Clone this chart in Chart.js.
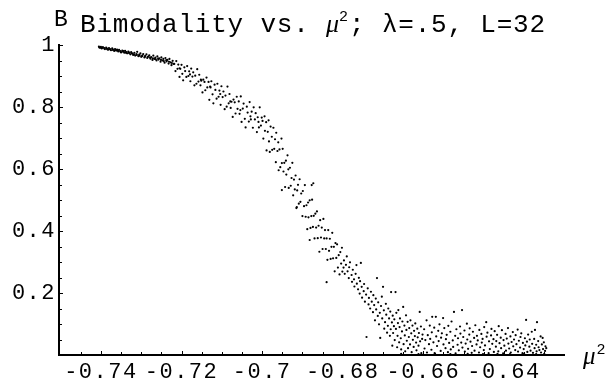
<!DOCTYPE html>
<html>
<head>
<meta charset="utf-8">
<script src="https://cdn.jsdelivr.net/npm/chart.js@4.4.0/dist/chart.umd.min.js"></script>
<style>
  html, body { margin: 0; padding: 0; background: #fff; }
</style>
</head>
<body>
<canvas id="myChart" width="607" height="383"></canvas>
<script>
// axis ticks
const xTicks = [-0.74, -0.72, -0.7, -0.68, -0.66, -0.64];
const xTickLabels = ['-0.74', '-0.72', '-0.7', '-0.68', '-0.66', '-0.64'];
const yTicks = [0.2, 0.4, 0.6, 0.8, 1];
const yTickLabels = ['0.2', '0.4', '0.6', '0.8', '1'];
const xRange = [-0.7504, -0.6251];
const yRange = [0, 1];

// bimodality samples [mu^2, B]
const plateau = [
  [-0.7405,0.995],[-0.7402,0.991],[-0.7400,0.994],[-0.7398,0.989],[-0.7395,0.993],[-0.7392,0.990],[-0.7390,0.987],[-0.7387,0.992],[-0.7385,0.988],[-0.7382,0.985],
  [-0.7380,0.990],[-0.7377,0.986],[-0.7375,0.983],[-0.7372,0.989],[-0.7370,0.984],[-0.7367,0.981],[-0.7365,0.987],[-0.7362,0.982],[-0.7360,0.985],[-0.7357,0.979],
  [-0.7355,0.984],[-0.7352,0.980],[-0.7350,0.976],[-0.7347,0.982],[-0.7345,0.978],[-0.7342,0.975],[-0.7340,0.981],[-0.7337,0.977],[-0.7335,0.973],[-0.7332,0.979],
  [-0.7330,0.974],[-0.7327,0.970],[-0.7325,0.977],[-0.7322,0.972],[-0.7320,0.968],[-0.7317,0.975],[-0.7315,0.966],[-0.7312,0.971],[-0.7310,0.978],[-0.7307,0.964],
  [-0.7305,0.969],[-0.7302,0.973],[-0.7300,0.962],[-0.7297,0.967],[-0.7295,0.971],[-0.7292,0.960],[-0.7290,0.965],[-0.7287,0.970],[-0.7285,0.958],[-0.7282,0.963],
  [-0.7280,0.967],[-0.7277,0.956],[-0.7275,0.961],[-0.7272,0.952],[-0.7270,0.966],[-0.7267,0.955],[-0.7265,0.959],[-0.7262,0.950],[-0.7260,0.963],[-0.7257,0.953],
  [-0.7255,0.957],[-0.7252,0.946],[-0.7250,0.960],[-0.7247,0.950],[-0.7245,0.955],[-0.7242,0.943],[-0.7240,0.958],[-0.7237,0.947],[-0.7235,0.952],[-0.7232,0.940],
  [-0.7230,0.955],[-0.7227,0.944],[-0.7225,0.935],[-0.7222,0.949],[-0.7220,0.939],
  [-0.7404,0.992],[-0.7397,0.991],[-0.7391,0.988],[-0.7384,0.986],[-0.7378,0.987],[-0.7371,0.986],[-0.7364,0.984],[-0.7358,0.982],[-0.7351,0.978],[-0.7344,0.980],
  [-0.7338,0.975],[-0.7331,0.976],[-0.7324,0.974],[-0.7318,0.970],[-0.7311,0.968],[-0.7304,0.966],[-0.7298,0.964],[-0.7291,0.962],[-0.7284,0.961],[-0.7278,0.959],
  [-0.7271,0.957],[-0.7264,0.954],[-0.7258,0.956],[-0.7251,0.952],[-0.7244,0.948],[-0.7238,0.951],[-0.7231,0.946],[-0.7224,0.942]
];

const shoulder = [
  [-0.7218,0.939],[-0.7215,0.916],[-0.7213,0.948],[-0.7210,0.923],[-0.7208,0.937],[-0.7205,0.897],[-0.7203,0.923],[-0.7200,0.936],[-0.7198,0.907],[-0.7196,0.886],
  [-0.7193,0.928],[-0.7191,0.916],[-0.7188,0.897],[-0.7186,0.932],[-0.7183,0.900],[-0.7181,0.915],[-0.7178,0.883],[-0.7176,0.924],[-0.7173,0.898],[-0.7171,0.912],
  [-0.7168,0.870],[-0.7166,0.901],[-0.7163,0.875],[-0.7161,0.922],[-0.7158,0.882],[-0.7156,0.904],[-0.7153,0.870],[-0.7151,0.885],[-0.7148,0.847],[-0.7146,0.888],
  [-0.7143,0.881],[-0.7141,0.854],[-0.7138,0.895],[-0.7136,0.863],[-0.7133,0.881],[-0.7131,0.823],[-0.7128,0.863],[-0.7126,0.883],[-0.7123,0.841],[-0.7121,0.812],
  [-0.7118,0.872],[-0.7116,0.855],[-0.7113,0.827],[-0.7111,0.875],[-0.7108,0.833],[-0.7106,0.853],[-0.7103,0.807],[-0.7101,0.867],[-0.7098,0.832],[-0.7096,0.850],
  [-0.7093,0.793],[-0.7091,0.837],[-0.7088,0.801],[-0.7086,0.866],[-0.7083,0.812],[-0.7081,0.842],[-0.7078,0.797],[-0.7076,0.817],[-0.7073,0.768],[-0.7071,0.824],
  [-0.7068,0.815],[-0.7066,0.779],[-0.7063,0.833],[-0.7061,0.794],[-0.7058,0.818],[-0.7056,0.778],[-0.7053,0.834],[-0.7051,0.752],[-0.7048,0.795],[-0.7046,0.811],
  [-0.7043,0.762],[-0.7041,0.734],[-0.7038,0.801],[-0.7036,0.782],[-0.7033,0.753],[-0.7031,0.816],[-0.7028,0.760],[-0.7026,0.785],[-0.7023,0.733],[-0.7021,0.799],
  [-0.7018,0.760],[-0.7016,0.780],[-0.7013,0.719],[-0.7011,0.767],[-0.7008,0.734],[-0.7006,0.799],[-0.7003,0.740],[-0.7001,0.766],
  [-0.7205,0.925],[-0.7179,0.905],[-0.7152,0.888],[-0.7129,0.866],[-0.7104,0.842],[-0.7079,0.818],[-0.7054,0.790],[-0.7029,0.770],[-0.7009,0.752]
];

const drop = [
  [-0.6999,0.755],[-0.6997,0.698],[-0.6994,0.770],[-0.6993,0.723],[-0.6990,0.751],[-0.6989,0.660],[-0.6986,0.720],[-0.6984,0.757],[-0.6983,0.689],[-0.6981,0.655],
  [-0.6979,0.737],[-0.6976,0.704],[-0.6975,0.662],[-0.6972,0.733],[-0.6970,0.665],[-0.6968,0.696],[-0.6966,0.622],[-0.6965,0.717],[-0.6962,0.658],[-0.6960,0.686],
  [-0.6959,0.596],[-0.6957,0.663],[-0.6955,0.606],[-0.6952,0.698],[-0.6951,0.619],[-0.6949,0.665],[-0.6947,0.592],[-0.6945,0.620],[-0.6943,0.542],[-0.6941,0.627],
  [-0.6940,0.582],[-0.6937,0.644],[-0.6935,0.599],[-0.6934,0.539],[-0.6931,0.604],[-0.6929,0.546],[-0.6927,0.571],[-0.6925,0.620],[-0.6923,0.515],[-0.6921,0.566],
  [-0.6919,0.534],[-0.6917,0.579],[-0.6915,0.474],[-0.6913,0.531],[-0.6911,0.549],[-0.6909,0.488],[-0.6907,0.567],[-0.6905,0.494],[-0.6903,0.521],[-0.6900,0.448],
  [-0.6899,0.529],[-0.6896,0.480],[-0.6894,0.548],[-0.6892,0.446],[-0.6890,0.483],[-0.6888,0.406],[-0.6886,0.492],[-0.6885,0.444],[-0.6882,0.499],[-0.6880,0.410],
  [-0.6878,0.448],[-0.6876,0.501],[-0.6874,0.413],[-0.6872,0.449],[-0.6870,0.376],[-0.6868,0.456],[-0.6866,0.411],[-0.6864,0.463],[-0.6862,0.377],[-0.6860,0.417],
  [-0.6858,0.333],[-0.6856,0.435],[-0.6854,0.379],[-0.6852,0.411],[-0.6850,0.342],[-0.6848,0.439],[-0.6846,0.376],[-0.6844,0.403],[-0.6842,0.342],[-0.6840,0.376],
  [-0.6838,0.307],[-0.6836,0.403],[-0.6834,0.336],[-0.6832,0.375],[-0.6830,0.310],[-0.6828,0.349],[-0.6826,0.394],[-0.6824,0.312],[-0.6822,0.349],[-0.6820,0.270],
  [-0.6818,0.361],[-0.6816,0.313],[-0.6814,0.357],[-0.6812,0.282],[-0.6810,0.322],[-0.6808,0.260],[-0.6806,0.332],[-0.6804,0.295],[-0.6802,0.346],[-0.6801,0.269],
  [-0.6877,0.548],[-0.6873,0.554],[-0.6882,0.371],[-0.6840,0.235],[-0.6914,0.477],[-0.6951,0.532]
];

const knee = [
  [-0.6798,0.282],[-0.6797,0.305],[-0.6795,0.262],[-0.6792,0.291],[-0.6790,0.318],[-0.6788,0.270],[-0.6785,0.248],[-0.6784,0.283],[-0.6782,0.299],[-0.6778,0.258],
  [-0.6777,0.236],[-0.6775,0.275],[-0.6772,0.244],[-0.6771,0.221],[-0.6768,0.262],[-0.6766,0.290],[-0.6765,0.230],[-0.6762,0.212],[-0.6760,0.249],[-0.6758,0.198],
  [-0.6757,0.238],[-0.6755,0.297],[-0.6753,0.220],[-0.6752,0.185],[-0.6748,0.206],[-0.6747,0.229],[-0.6745,0.172],[-0.6742,0.195],[-0.6741,0.058],[-0.6738,0.215],
  [-0.6736,0.163],[-0.6735,0.184],[-0.6732,0.150],[-0.6730,0.204],[-0.6728,0.172],[-0.6725,0.138],[-0.6724,0.193],[-0.6722,0.161],[-0.6720,0.112],[-0.6718,0.182],
  [-0.6717,0.147],[-0.6715,0.248],[-0.6713,0.126],[-0.6712,0.170],[-0.6710,0.099],[-0.6708,0.136],[-0.6707,0.055],[-0.6705,0.158],[-0.6703,0.188],[-0.6702,0.118],
  [-0.6700,0.220],[-0.6698,0.144],[-0.6697,0.085],[-0.6695,0.106],[-0.6693,0.165],[-0.6692,0.130],[-0.6690,0.072],[-0.6688,0.094],[-0.6687,0.150],[-0.6685,0.118],
  [-0.6683,0.062],[-0.6682,0.140],[-0.6681,0.083],[-0.6680,0.203],[-0.6678,0.105],[-0.6677,0.030],[-0.6676,0.127],[-0.6675,0.071],[-0.6673,0.093],[-0.6672,0.115],
  [-0.6671,0.048],[-0.6669,0.203],[-0.6668,0.084],[-0.6667,0.136],[-0.6665,0.025],[-0.6664,0.062],[-0.6663,0.103],[-0.6662,0.145],[-0.6660,0.041],[-0.6659,0.090],
  [-0.6658,0.118],[-0.6656,0.054],[-0.6655,0.018],[-0.6653,0.076],[-0.6652,0.108],[-0.6650,0.155],[-0.6649,0.035],[-0.6647,0.095],[-0.6646,0.063],[-0.6645,0.012],
  [-0.6643,0.128],[-0.6642,0.081],[-0.6641,0.046],[-0.6639,0.107],[-0.6638,0.022],[-0.6636,0.058],[-0.6635,0.087],[-0.6633,0.034],[-0.6632,0.112],[-0.6630,0.070],
  [-0.6629,0.009],[-0.6627,0.095],[-0.6626,0.049],[-0.6624,0.026],[-0.6623,0.078],[-0.6621,0.061],[-0.6620,0.102],[-0.6618,0.040],[-0.6617,0.015],[-0.6615,0.085],
  [-0.6614,0.057],[-0.6612,0.030],[-0.6611,0.071],[-0.6609,0.139],[-0.6608,0.044],[-0.6606,0.092],[-0.6605,0.006],[-0.6603,0.052],[-0.6602,0.066]
];

const tail = [
  [-0.6598,0.083],[-0.6597,0.021],[-0.6595,0.048],[-0.6592,0.112],[-0.6591,0.008],[-0.6589,0.064],[-0.6586,0.035],[-0.6584,0.095],[-0.6583,0.052],[-0.6580,0.017],
  [-0.6579,0.073],[-0.6578,0.123],[-0.6575,0.041],[-0.6573,0.088],[-0.6572,0.006],[-0.6569,0.123],[-0.6568,0.060],[-0.6566,0.029],[-0.6563,0.078],[-0.6562,0.045],
  [-0.6560,0.099],[-0.6557,0.013],[-0.6556,0.056],[-0.6554,0.070],[-0.6551,0.119],[-0.6550,0.034],[-0.6548,0.087],[-0.6545,0.022],[-0.6544,0.051],[-0.6542,0.065],
  [-0.6539,0.009],[-0.6538,0.094],[-0.6536,0.039],[-0.6533,0.075],[-0.6532,0.018],[-0.6530,0.108],[-0.6527,0.047],[-0.6526,0.026],[-0.6524,0.139],[-0.6521,0.062],
  [-0.6520,0.005],[-0.6518,0.083],[-0.6515,0.033],[-0.6514,0.054],[-0.6512,0.015],[-0.6509,0.092],[-0.6508,0.069],[-0.6506,0.040],[-0.6504,0.145],[-0.6503,0.024],
  [-0.6501,0.058],[-0.6498,0.079],[-0.6497,0.011],[-0.6495,0.037],[-0.6492,0.101],[-0.6491,0.050],[-0.6489,0.020],[-0.6486,0.066],[-0.6485,0.086],[-0.6483,0.043],
  [-0.6480,0.007],[-0.6479,0.029],[-0.6477,0.075],[-0.6474,0.055],[-0.6473,0.014],[-0.6471,0.096],[-0.6468,0.034],[-0.6467,0.062],[-0.6465,0.047],[-0.6462,0.008],
  [-0.6461,0.081],[-0.6459,0.025],[-0.6456,0.068],[-0.6455,0.040],[-0.6453,0.052],[-0.6450,0.016],[-0.6449,0.090],[-0.6447,0.031],[-0.6444,0.106],[-0.6443,0.059],
  [-0.6441,0.072],[-0.6438,0.006],[-0.6437,0.044],[-0.6435,0.019],[-0.6432,0.063],[-0.6431,0.084],[-0.6429,0.036],[-0.6426,0.051],[-0.6425,0.010],[-0.6423,0.077],
  [-0.6420,0.027],[-0.6419,0.045],[-0.6417,0.065],[-0.6414,0.012],[-0.6413,0.093],[-0.6411,0.038],[-0.6408,0.056],[-0.6407,0.022],[-0.6405,0.080],[-0.6402,0.005],
  [-0.6401,0.048],[-0.6399,0.030],[-0.6396,0.068],[-0.6395,0.014],[-0.6393,0.053],[-0.6390,0.087],[-0.6389,0.037],[-0.6387,0.021],[-0.6384,0.060],[-0.6383,0.008],
  [-0.6381,0.042],[-0.6378,0.074],[-0.6377,0.028],[-0.6375,0.050],[-0.6372,0.016],[-0.6371,0.064],[-0.6369,0.035],[-0.6366,0.082],[-0.6365,0.011],[-0.6363,0.046],
  [-0.6360,0.024],[-0.6359,0.058],[-0.6357,0.070],[-0.6354,0.006],[-0.6353,0.039],[-0.6351,0.019],[-0.6348,0.054],[-0.6347,0.031],[-0.6345,0.113],[-0.6343,0.043],
  [-0.6342,0.010],[-0.6340,0.066],[-0.6337,0.027],[-0.6336,0.050],[-0.6334,0.014],[-0.6331,0.075],[-0.6330,0.036],[-0.6328,0.007],[-0.6325,0.052],[-0.6324,0.022],
  [-0.6323,0.081],[-0.6320,0.033],[-0.6319,0.012],[-0.6318,0.106],[-0.6315,0.045],[-0.6314,0.025],[-0.6312,0.016],[-0.6309,0.060],[-0.6308,0.008],[-0.6306,0.034],
  [-0.6304,0.055],[-0.6303,0.019],[-0.6301,0.041],[-0.6298,0.013],[-0.6297,0.028],[-0.6295,0.022],
  [-0.6655,0.004],[-0.6612,0.003],[-0.6571,0.004],[-0.6533,0.003],[-0.6490,0.004],[-0.6452,0.003],[-0.6416,0.004],[-0.6385,0.003],[-0.6350,0.004],[-0.6320,0.003],
  [-0.6300,0.004]
];

const titleText = 'Bimodality vs. ';
const titleRest = '; \u03bb=.5, L=32';
const panelLetter = 'B';

const monoFont = '"Liberation Mono", "DejaVu Sans Mono", monospace';
const serifFont = '"Liberation Serif", "DejaVu Serif", serif';

function toPoints(list) {
  return list.map(p => ({ x: p[0], y: p[1] }));
}

// wider letters, closer to the Courier of the original
const spacing = {
  id: 'spacing',
  beforeDraw(chart) {
    chart.ctx.letterSpacing = '1.5px';
  }
};

// tick marks point into the plot, as in the original
const inwardTicks = {
  id: 'inwardTicks',
  afterDraw(chart) {
    const { ctx, chartArea, scales } = chart;
    ctx.save();
    ctx.strokeStyle = '#000';
    ctx.lineWidth = 1;
    ctx.beginPath();
    for (let i = 1; i <= 24; i++) {
      const v = Math.round((-0.75 + i * 0.005) * 1000) / 1000;
      const major = xTicks.some(t => Math.abs(t - v) < 1e-6);
      const px = Math.round(scales.x.getPixelForValue(v)) + 0.5;
      ctx.moveTo(px, chartArea.bottom);
      ctx.lineTo(px, chartArea.bottom - (major ? 4 : 3));
    }
    for (let j = 1; j <= 20; j++) {
      const v = Math.round(j * 0.05 * 100) / 100;
      const major = yTicks.some(t => Math.abs(t - v) < 1e-6);
      const py = Math.round(scales.y.getPixelForValue(v)) + 0.5;
      ctx.moveTo(chartArea.left, py);
      ctx.lineTo(chartArea.left + (major ? 4 : 3), py);
    }
    ctx.stroke();
    ctx.restore();
  }
};

const headings = {
  id: 'headings',
  afterDraw(chart) {
    const { ctx, chartArea } = chart;
    ctx.save();
    ctx.fillStyle = '#000';
    ctx.textBaseline = 'alphabetic';
    ctx.letterSpacing = '0px';
    ctx.font = '23px ' + monoFont;
    ctx.fillText(panelLetter, chartArea.left - 5, 26);

    let x = chartArea.left + 21;
    const base = 32;
    const put = (s, font, dy, ls) => {
      ctx.font = font;
      ctx.letterSpacing = ls;
      ctx.fillText(s, x, base + dy);
      x += ctx.measureText(s).width;
    };
    put(titleText, '26px ' + monoFont, 0, '0.8px');
    put('\u03bc', 'italic 26px ' + serifFont, 0, '0px');
    put('2', '15px ' + monoFont, -11, '1px');
    put(titleRest, '26px ' + monoFont, 0, '0.8px');

    // axis name at the right end of the x axis
    ctx.letterSpacing = '0px';
    ctx.font = 'italic 25px ' + serifFont;
    ctx.fillText('\u03bc', chartArea.right + 19, chartArea.bottom + 9);
    const w = ctx.measureText('\u03bc').width;
    ctx.font = '15px ' + monoFont;
    ctx.fillText('2', chartArea.right + 20 + w, chartArea.bottom - 1);
    ctx.restore();
  }
};

const ctx = document.getElementById('myChart');
new Chart(ctx, {
  type: 'scatter',
  data: {
    datasets: [{
      label: 'Bimodality',
      data: toPoints([].concat(plateau, shoulder, drop, knee, tail)),
      backgroundColor: '#000',
      borderWidth: 0,
      pointRadius: 1.1,
      pointHoverRadius: 1.1
    }]
  },
  options: {
    responsive: false,
    animation: false,
    devicePixelRatio: 1,
    events: [],
    layout: { padding: { top: 45, right: 43, left: 0, bottom: 0 } },
    plugins: {
      legend: { display: false },
      title: { display: false },
      tooltip: { enabled: false }
    },
    scales: {
      x: {
        type: 'linear',
        min: xRange[0],
        max: xRange[1],
        afterBuildTicks: s => { s.ticks = xTicks.map(v => ({ value: v })); },
        afterFit: s => { s.height = 28; },
        grid: { drawOnChartArea: false, drawTicks: false },
        border: { color: '#000', width: 2 },
        ticks: {
          autoSkip: false,
          maxRotation: 0,
          padding: 4,
          color: '#000',
          font: { family: monoFont, size: 22 },
          callback: (v, i) => xTickLabels[i]
        }
      },
      y: {
        type: 'linear',
        min: yRange[0],
        max: yRange[1],
        afterBuildTicks: s => { s.ticks = yTicks.map(v => ({ value: v })); },
        afterFit: s => { s.width = 59; },
        grid: { drawOnChartArea: false, drawTicks: false },
        border: { color: '#000', width: 2 },
        ticks: {
          padding: 3,
          color: '#000',
          font: { family: monoFont, size: 22 },
          callback: (v, i) => yTickLabels[i]
        }
      }
    }
  },
  plugins: [spacing, inwardTicks, headings]
});
</script>
</body>
</html>
